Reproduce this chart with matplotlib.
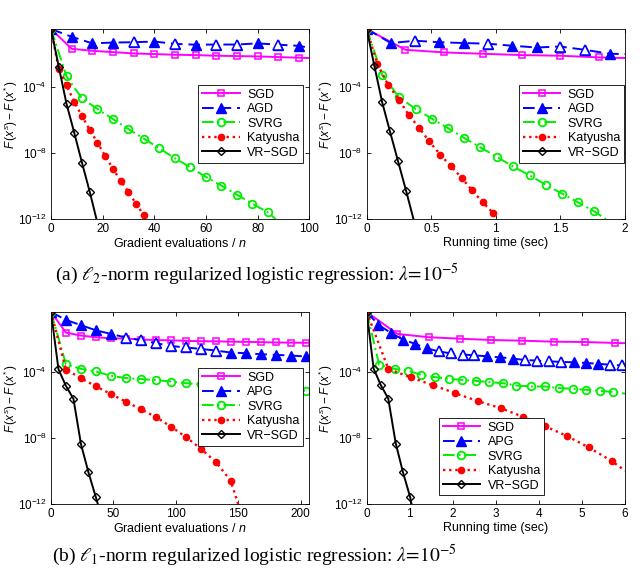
import matplotlib
matplotlib.use('Agg')
import matplotlib.pyplot as plt
import numpy as np
from matplotlib.ticker import FixedLocator, FormatStrFormatter, NullLocator, LogFormatterMathtext

plt.rcParams['font.family'] = ['Liberation Sans', 'DejaVu Sans']
plt.rcParams['mathtext.fontset'] = 'custom'
plt.rcParams['mathtext.rm'] = 'Liberation Sans'
plt.rcParams['mathtext.it'] = 'Liberation Sans:italic'
plt.rcParams['mathtext.bf'] = 'Liberation Sans:bold'

# values are log10 of F(x^s) - F(x^*)

# (a) l2-norm, gradient evaluations / n
a1_sgd_x = [0, 8, 16, 24, 32, 40, 48, 56, 64, 72, 80, 88, 96, 100]
a1_sgd_y = [-0.48, -1.68, -1.80, -1.88, -1.96, -2.00, -2.04, -2.06, -2.10, -2.12, -2.14, -2.18, -2.22, -2.24]
a1_agd_x = [0, 8, 16, 24, 32, 40, 48, 56, 64, 72, 80, 88, 96, 100]
a1_agd_y = [-0.48, -0.95, -1.35, -1.30, -1.28, -1.24, -1.38, -1.43, -1.42, -1.42, -1.35, -1.43, -1.50, -1.62]
a1_agd_open = [4, 6, 8, 9, 11]
a1_svrg_x = [0, 6, 12, 18, 24, 30, 36, 42, 48, 54, 60, 66, 72, 78, 84, 87]
a1_svrg_y = [-0.48, -3.35, -4.69, -5.33, -5.94, -6.55, -7.13, -7.72, -8.32, -8.87, -9.45, -9.98, -10.53, -11.07, -11.60, -12.0]
a1_katy_x = [0, 3, 6, 9, 12, 15, 18, 21, 24, 27, 30, 33, 36, 37.2]
a1_katy_y = [-0.48, -2.9, -3.90, -4.89, -5.76, -6.59, -7.37, -8.18, -8.95, -9.68, -10.36, -11.09, -11.78, -12.0]
a1_vr_x = [0, 3, 6, 9, 12, 15, 17.6]
a1_vr_y = [-0.48, -2.77, -5.01, -6.77, -8.59, -10.35, -12.0]

# (a) l2-norm, running time (sec)
a2_sgd_x = [0, 0.30, 0.60, 0.90, 1.20, 1.50, 1.80, 2.0]
a2_sgd_y = [-0.48, -1.74, -1.90, -1.98, -2.06, -2.10, -2.20, -2.24]
a2_agd_x = [0, 0.187, 0.376, 0.562, 0.751, 0.938, 1.122, 1.316, 1.497, 1.689, 1.881, 2.0]
a2_agd_y = [-0.48, -1.33, -1.19, -1.28, -1.33, -1.37, -1.49, -1.60, -1.54, -1.74, -1.98, -2.0]
a2_agd_open = [2, 5, 8, 9]
a2_svrg_x = [0, 0.12, 0.25, 0.38, 0.505, 0.627, 0.756, 0.881, 1.01, 1.132, 1.262, 1.386, 1.513, 1.637, 1.762, 1.852]
a2_svrg_y = [-0.48, -3.27, -4.61, -5.33, -5.92, -6.48, -7.09, -7.66, -8.24, -8.81, -9.35, -9.92, -10.46, -10.99, -11.54, -12.0]
a2_katy_x = [0, 0.083, 0.165, 0.251, 0.324, 0.407, 0.484, 0.570, 0.653, 0.738, 0.816, 0.899, 0.979, 1.005]
a2_katy_y = [-0.48, -2.61, -3.85, -4.77, -5.68, -6.48, -7.29, -8.10, -8.81, -9.52, -10.26, -10.99, -11.64, -12.0]
a2_vr_x = [0, 0.06, 0.12, 0.18, 0.243, 0.306, 0.362]
a2_vr_y = [-0.48, -2.75, -4.93, -6.69, -8.51, -10.32, -12.0]

# (b) l1-norm, gradient evaluations / n
b1_x = [0, 12, 24, 36, 48, 60, 72, 84, 96, 108, 120, 132, 144, 156, 168, 180, 192, 204, 207]
b1_sgd_y = [-0.35, -1.60, -1.78, -1.88, -1.95, -1.96, -2.02, -2.05, -2.07, -2.10, -2.12, -2.13, -2.15, -2.16, -2.18, -2.20, -2.21, -2.22, -2.22]
b1_apg_y = [-0.35, -0.83, -1.15, -1.46, -1.68, -1.90, -2.06, -2.24, -2.41, -2.50, -2.59, -2.69, -2.81, -2.85, -2.91, -2.95, -2.99, -3.05, -3.07]
b1_apg_open = [5, 6, 7, 8, 9, 10, 11]
b1_svrg_y = [-0.35, -3.52, -3.80, -3.96, -4.22, -4.36, -4.42, -4.48, -4.57, -4.67, -4.73, -4.80, -4.85, -4.90, -4.98, -5.03, -5.08, -5.13, -5.16]
b1_katy_x = [0, 12, 24, 36, 48, 60, 72, 84, 96, 108, 120, 132, 144, 150]
b1_katy_y = [-0.35, -3.84, -4.37, -4.86, -5.33, -5.79, -6.25, -6.72, -7.30, -7.93, -8.64, -9.44, -10.58, -12.0]
b1_vr_x = [0, 6, 12, 18, 24, 30, 36, 37.5]
b1_vr_y = [-0.35, -3.83, -4.84, -5.62, -8.36, -10.08, -11.60, -12.0]

# (b) l1-norm, running time (sec)
b2_sgd_x = [0, 0.71, 1.44, 2.17, 2.89, 3.60, 4.34, 5.06, 5.78, 6.0]
b2_sgd_y = [-0.35, -1.68, -1.88, -1.97, -2.05, -2.09, -2.15, -2.17, -2.23, -2.24]
b2_apg_x = [0, 0.27, 0.56, 0.85, 1.12, 1.40, 1.67, 1.95, 2.24, 2.50, 2.80, 3.10, 3.39, 3.68, 3.96, 4.23, 4.51, 4.81, 5.09, 5.37, 5.65, 5.92, 6.0]
b2_apg_y = [-0.35, -1.12, -1.62, -2.03, -2.28, -2.56, -2.74, -2.86, -2.93, -2.98, -3.04, -3.10, -3.18, -3.26, -3.30, -3.34, -3.38, -3.40, -3.44, -3.49, -3.55, -3.59, -3.60]
b2_apg_open = [6, 7, 8, 9, 13, 14, 15, 16, 20, 21]
b2_svrg_x = [0, 0.29, 0.65, 0.96, 1.27, 1.58, 1.91, 2.22, 2.53, 2.85, 3.16, 3.48, 3.82, 4.14, 4.47, 4.79, 5.09, 5.42, 5.73, 6.0]
b2_svrg_y = [-0.35, -3.56, -3.80, -3.92, -4.16, -4.30, -4.41, -4.47, -4.53, -4.61, -4.67, -4.81, -4.87, -4.87, -4.97, -5.01, -5.07, -5.13, -5.21, -5.30]
b2_katy_x = [0, 0.50, 1.02, 1.55, 2.06, 2.58, 3.12, 3.62, 4.14, 4.65, 5.16, 5.69, 6.0]
b2_katy_y = [-0.35, -3.79, -4.32, -4.80, -5.28, -5.76, -6.19, -6.70, -7.28, -7.87, -8.57, -9.39, -9.98]
b2_vr_x = [0, 0.16, 0.33, 0.50, 0.675, 0.84, 1.01, 1.04]
b2_vr_y = [-0.35, -3.78, -4.80, -5.60, -8.33, -10.05, -11.59, -12.0]

fig = plt.figure(figsize=(6.4, 5.68), dpi=100)

LW = 1.4


def panel(rect, xmax, xticks, ytop, xlabel, series, second, open_idx, leg_anchor, ylab_x):
    ax = fig.add_axes(rect)
    ax.set_yscale('log')
    (sx, sy), (ax_x, ax_y), (vx, vy), (kx, ky), (rx, ry) = series
    me = slice(0, -1)
    ax.plot(sx, 10 ** np.array(sy), '-', color='#ff00ff', lw=LW, marker='s', ms=5,
            mfc='none', mew=1.1, markevery=me, label='SGD')
    ax.plot(ax_x, 10 ** np.array(ax_y), color='#0000ff', lw=LW, ls=(0, (6, 3)), marker='^', ms=7,
            mfc='#0000ff', mew=1.0, markevery=me, label=second)
    ax.plot([ax_x[i] for i in open_idx], [10 ** ax_y[i] for i in open_idx], ls='none', marker='^',
            ms=7, mfc='white', mec='#0000ff', mew=1.1)
    ax.plot(vx, 10 ** np.array(vy), color='#00ee00', lw=LW, ls=(0, (6, 2, 1, 2)), marker='o', ms=5.5,
            mfc='none', mew=1.3, markevery=me, label='SVRG')
    ax.plot(kx, 10 ** np.array(ky), color='#ff0000', lw=1.7, ls=(0, (1, 1.6)), marker='o', ms=4.5,
            mfc='#ff0000', mec='#ff0000', markevery=me, label='Katyusha')
    ax.plot(rx, 10 ** np.array(ry), '-', color='black', lw=LW, marker='D', ms=4.4,
            mfc='none', mew=1.0, markevery=me, label='VR\u2212SGD')
    ax.set_xlim(0, xmax)
    ax.set_ylim(1e-12, 10 ** ytop)
    ax.xaxis.set_major_locator(FixedLocator(xticks))
    ax.xaxis.set_major_formatter(FormatStrFormatter('%g'))
    ax.yaxis.set_major_locator(FixedLocator([1e-12, 1e-8, 1e-4]))
    ax.yaxis.set_major_formatter(LogFormatterMathtext())
    ax.yaxis.set_minor_locator(NullLocator())
    ax.tick_params(direction='in', top=True, right=True, labelsize=8.5, length=3, width=0.6, pad=3)
    for s in ax.spines.values():
        s.set_linewidth(0.6)
    ax.set_xlabel(xlabel, fontsize=9, labelpad=1)
    ax.set_ylabel(r'$F\,(x^s)-F\,(x^*)$', fontsize=8.5)
    ax.yaxis.set_label_coords(ylab_x, 0.55)
    leg = ax.legend(loc='upper right', bbox_to_anchor=leg_anchor, fontsize=9, frameon=True,
                    fancybox=False, edgecolor='black', framealpha=1, handlelength=3.0,
                    labelspacing=0.2, borderpad=0.3, handletextpad=0.6, borderaxespad=0)
    leg.get_frame().set_linewidth(0.6)
    return ax


top_b, top_h = 0.6144, 0.3345
bot_b, bot_h = 0.1127, 0.338
w = 0.4035

panel([0.0797, top_b, w, top_h], 100, [0, 20, 40, 60, 80, 100], -0.48, 'Gradient evaluations / $n$',
      [(a1_sgd_x, a1_sgd_y), (a1_agd_x, a1_agd_y), (a1_svrg_x, a1_svrg_y), (a1_katy_x, a1_katy_y), (a1_vr_x, a1_vr_y)],
      'AGD', a1_agd_open, (0.977, 0.705), -0.122)
panel([0.573, top_b, w, top_h], 2, [0, 0.5, 1, 1.5, 2], -0.48, 'Running time (sec)',
      [(a2_sgd_x, a2_sgd_y), (a2_agd_x, a2_agd_y), (a2_svrg_x, a2_svrg_y), (a2_katy_x, a2_katy_y), (a2_vr_x, a2_vr_y)],
      'AGD', a2_agd_open, (0.996, 0.705), -0.122)
panel([0.0797, bot_b, w, bot_h], 207, [0, 50, 100, 150, 200], -0.35, 'Gradient evaluations / $n$',
      [(b1_x, b1_sgd_y), (b1_x, b1_apg_y), (b1_x, b1_svrg_y), (b1_katy_x, b1_katy_y), (b1_vr_x, b1_vr_y)],
      'APG', b1_apg_open, (0.977, 0.708), -0.122)
panel([0.573, bot_b, w, bot_h], 6, [0, 1, 2, 3, 4, 5, 6], -0.35, 'Running time (sec)',
      [(b2_sgd_x, b2_sgd_y), (b2_apg_x, b2_apg_y), (b2_svrg_x, b2_svrg_y), (b2_katy_x, b2_katy_y), (b2_vr_x, b2_vr_y)],
      'APG', b2_apg_open, (0.686, 0.448), -0.122)

fig.text(0.402, 1 - 280 / 568, r'(a) $\ell_2$-norm regularized logistic regression: $\lambda\!=\!10^{-5}$',
         ha='center', va='baseline', fontsize=14, family='Liberation Serif', math_fontfamily='stix')
fig.text(0.397, 1 - 561 / 568, r'(b) $\ell_1$-norm regularized logistic regression: $\lambda\!=\!10^{-5}$',
         ha='center', va='baseline', fontsize=14, family='Liberation Serif', math_fontfamily='stix')

fig.savefig('out.png', dpi=100)
